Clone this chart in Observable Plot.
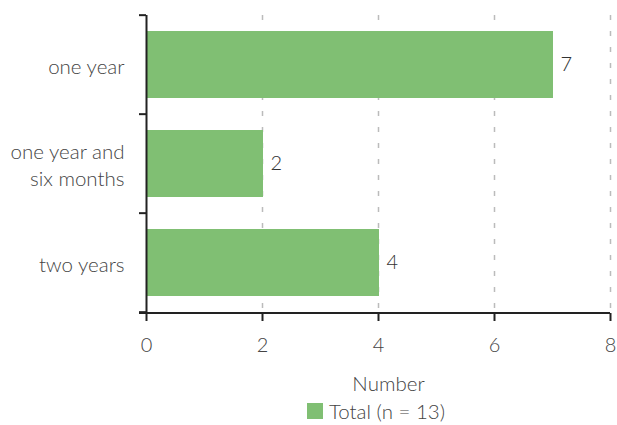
<!DOCTYPE html>
<html>
<head>
<meta charset="utf-8">
<script src="https://cdn.jsdelivr.net/npm/d3@7"></script>
<script src="https://cdn.jsdelivr.net/npm/@observablehq/plot@0.6"></script>
<style>
  body { margin: 0; background: #fff; font-family: "Lato", "Open Sans", sans-serif; font-weight: 300; }
  #legend { display: flex; align-items: center; margin-left: 307px; margin-top: 0px;
            font-size: 20.5px; color: #444; line-height: 22px; }
  #legend .sw { width: 16px; height: 16px; margin-right: 6px; }
</style>
</head>
<body>
<div id="chart"></div>
<script>
// Time to completion, number of respondents per duration
const durations = ["one year", "one year and\nsix months", "two years"];
const counts = [7, 2, 4];
const xTicks = [0, 2, 4, 6, 8];
const seriesName = "Total (n = 13)";
const axisTitle = "Number";

const green = "#80bf73";
const ink = "#222";
const rows = durations.map((d, i) => ({duration: d, count: counts[i]}));

const padInner = 0.32;

// Band separators on the y axis and the extended x-axis baseline
function bandTicks(index, scales, values, dims) {
  const y = scales.y;
  const step = y(durations[1]) - y(durations[0]);
  const edges = durations.map(d => y(d) - step * padInner / 2);
  edges.push(y(durations[durations.length - 1]) + step * (1 - padInner / 2));
  const x0 = scales.x(0);
  const g = d3.create("svg:g").attr("stroke", ink).attr("stroke-width", 2);
  g.selectAll("line.t").data(edges).join("line")
    .attr("x1", x0 - 7).attr("x2", x0).attr("y1", d => d).attr("y2", d => d);
  g.append("line")
    .attr("x1", x0 - 7).attr("x2", dims.width - dims.marginRight)
    .attr("y1", dims.height - dims.marginBottom).attr("y2", dims.height - dims.marginBottom);
  return g.node();
}

const chart = Plot.plot({
  width: 617,
  height: 400,
  marginTop: 15,
  marginBottom: 87,
  marginLeft: 146,
  marginRight: 7,
  style: {fontFamily: "Lato, 'Open Sans', sans-serif", fontWeight: 300, fontSize: "20px", color: "#444", background: "#fff"},
  x: {domain: [0, 8], ticks: xTicks},
  y: {domain: durations, paddingInner: padInner, paddingOuter: padInner / 2},
  marks: [
    Plot.ruleX(xTicks.filter(t => t > 0), {stroke: "#bbb", strokeWidth: 1.5, strokeDasharray: "5,11"}),
    Plot.barX(rows, {x: "count", y: "duration", fill: green, insetRight: -1}),
    Plot.text(rows, {x: "count", y: "duration", text: d => String(d.count), dx: 8, textAnchor: "start", fill: "#333", fontSize: 20}),
    Plot.axisX({ticks: xTicks, tickSize: 8, tickPadding: 16, stroke: ink, strokeWidth: 2, label: null, fontSize: 20}),
    Plot.axisY({tickSize: 0, tickPadding: 22, label: null, lineHeight: 1.3, fontSize: 20.5}),
    Plot.ruleX([0], {stroke: ink, strokeWidth: 2}),
    bandTicks,
    Plot.text([axisTitle], {frameAnchor: "bottom", dy: 77, dx: 10, fontSize: 20.5, fill: "#444"})
  ]
});
document.getElementById("chart").appendChild(chart);

const legend = d3.select("body").append("div").attr("id", "legend");
legend.append("div").attr("class", "sw").style("background", green);
legend.append("span").text(seriesName);
</script>
</body>
</html>
